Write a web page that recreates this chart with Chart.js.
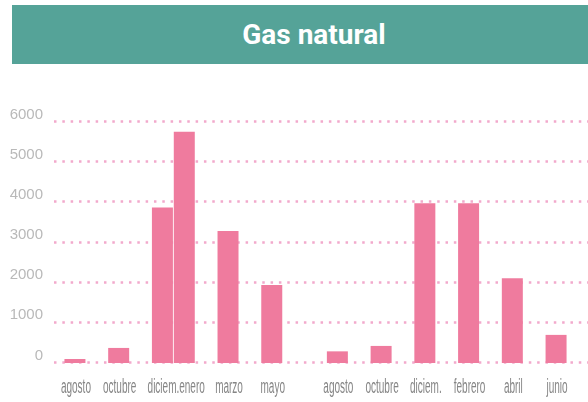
<!DOCTYPE html>
<html>
<head>
<meta charset="utf-8">
<script src="https://cdn.jsdelivr.net/npm/chart.js@4/dist/chart.umd.min.js"></script>
<style>
  html, body { margin: 0; padding: 0; background: #ffffff; }
  #wrap { position: relative; width: 588px; height: 402px; overflow: hidden; }
  #banner {
    position: absolute; left: 12px; top: 5px; width: 576px; height: 59px;
    background: #55a398; color: #ffffff;
    font-family: Roboto, "Liberation Sans", sans-serif; font-weight: bold; font-size: 28px;
    line-height: 59px; text-align: center; box-sizing: border-box; padding-left: 28px;
  }
  #c { position: absolute; left: 0; top: 0; }
</style>
</head>
<body>
<div id="wrap">
  <canvas id="c" width="588" height="402"></canvas>
  <div id="banner">Gas natural</div>
</div>
<script>
const titleText = "Gas natural";
const months = ["agosto", "", "octubre", "", "diciem.", "enero", "", "marzo", "", "mayo", "", "",
                "agosto", "", "octubre", "", "diciem.", "", "febrero", "", "abril", "", "junio"];
const gasValues = [100, null, 375, null, 3870, 5760, null, 3285, null, 1940, null, null,
                   290, null, 425, null, 3980, null, 3980, null, 2110, null, 700];
const yTicks = [0, 1000, 2000, 3000, 4000, 5000, 6000];

const dottedGrid = {
  id: 'dottedGrid',
  beforeDatasetsDraw(chart) {
    const ctx = chart.ctx;
    const y = chart.scales.y;
    ctx.save();
    ctx.strokeStyle = '#f2a9cc';
    ctx.lineWidth = 2.5;
    ctx.setLineDash([2.5, 5.83]);
    yTicks.forEach(v => {
      const py = Math.round(y.getPixelForValue(v)) - 0.5;
      ctx.beginPath();
      ctx.moveTo(54, py);
      ctx.lineTo(588, py);
      ctx.stroke();
    });
    ctx.restore();
  }
};

const narrowLabels = {
  id: 'narrowLabels',
  afterDraw(chart) {
    const ctx = chart.ctx;
    const x = chart.scales.x;
    const sx = 0.5;
    ctx.save();
    ctx.fillStyle = '#858585';
    ctx.font = '20px "Liberation Sans", sans-serif';
    ctx.textBaseline = 'alphabetic';
    let prevRight = null;
    months.forEach((m, i) => {
      if (!m) { prevRight = null; return; }
      const w = ctx.measureText(m).width * sx;
      let left = x.getPixelForValue(i) + 1 - w / 2;
      if (prevRight !== null && left < prevRight) left = prevRight;
      ctx.save();
      ctx.translate(left, 393);
      ctx.scale(sx, 1);
      ctx.textAlign = 'left';
      ctx.fillText(m, 0, 0);
      ctx.restore();
      prevRight = left + w;
    });
    ctx.restore();
  }
};

new Chart(document.getElementById('c'), {
  type: 'bar',
  data: {
    labels: months,
    datasets: [{
      label: titleText,
      data: gasValues,
      backgroundColor: '#ef7b9e',
      borderWidth: 0,
      barPercentage: 0.96,
      categoryPercentage: 1.0
    }]
  },
  options: {
    responsive: false,
    devicePixelRatio: 1,
    animation: false,
    layout: { padding: { top: 122, right: 21, bottom: 0, left: 0 } },
    plugins: { legend: { display: false }, title: { display: false }, tooltip: { enabled: false } },
    scales: {
      x: {
        grid: { display: false, drawTicks: false },
        border: { display: false },
        ticks: { display: false },
        afterFit(axis) { axis.height = 39; }
      },
      y: {
        min: 0, max: 6000,
        grid: { display: false, drawTicks: false },
        border: { display: false },
        afterBuildTicks(axis) { axis.ticks = yTicks.map(v => ({ value: v })); },
        ticks: {
          padding: 21,
          labelOffset: -7.5,
          color: '#b9b9b9',
          font: { family: '"Liberation Sans", sans-serif', size: 15 },
          callback: (v) => String(v)
        },
        afterFit(axis) { axis.width = 64; }
      }
    }
  },
  plugins: [dottedGrid, narrowLabels]
});
</script>
</body>
</html>
